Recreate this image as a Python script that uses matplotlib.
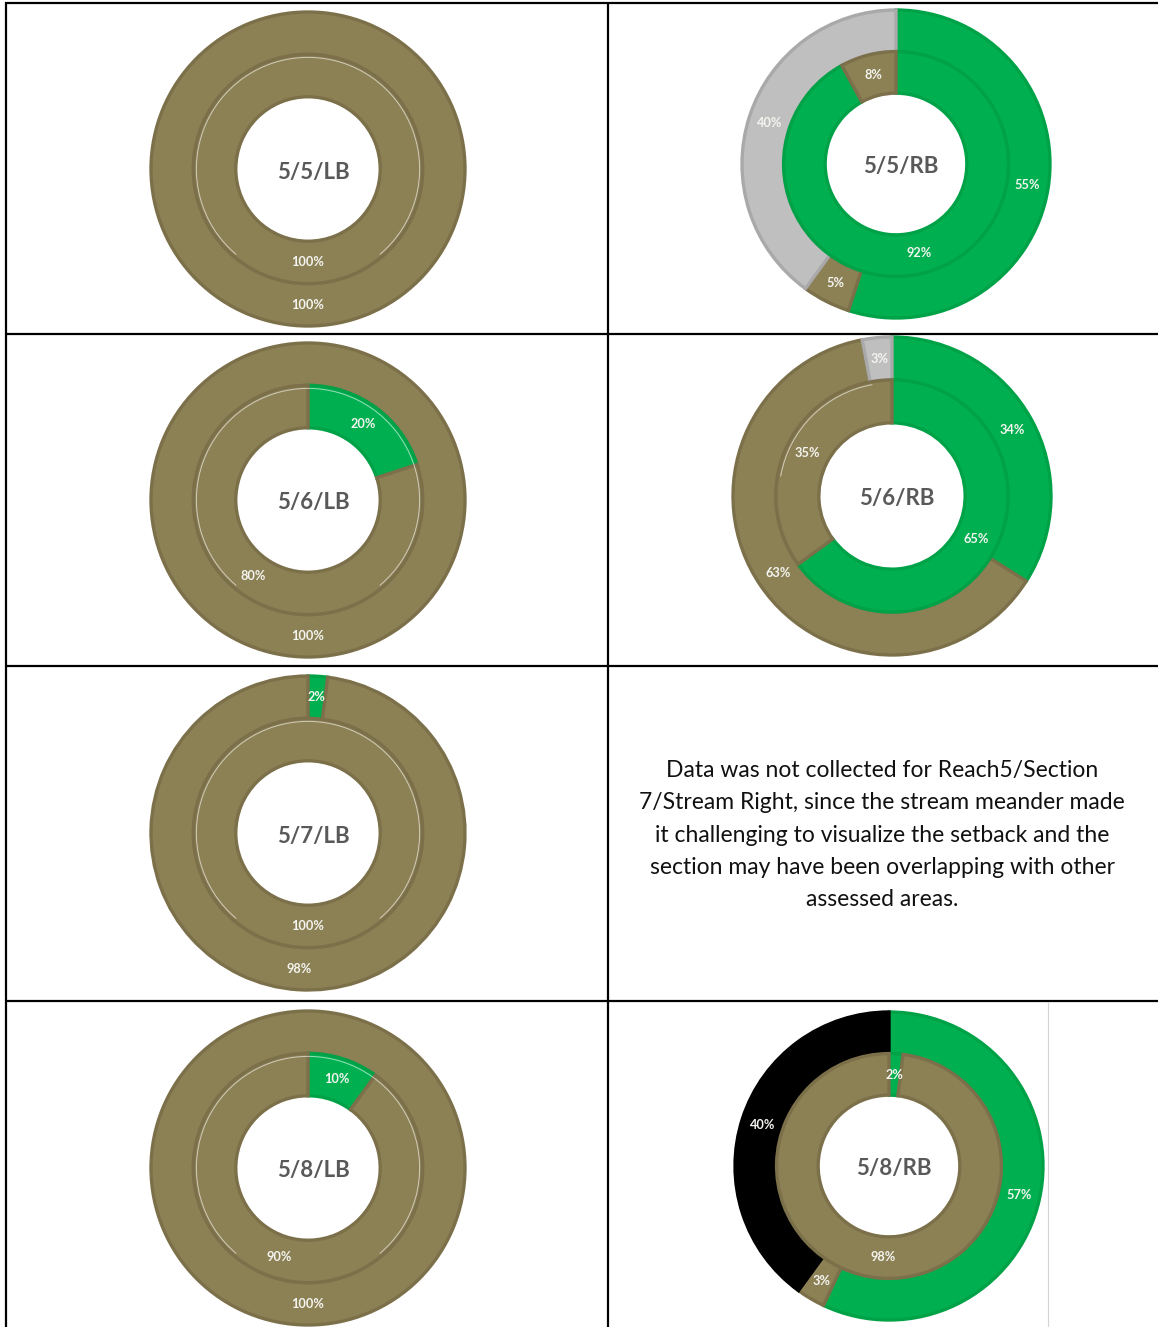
import matplotlib.pyplot as plt
from matplotlib.patches import Arc

plt.rcParams['font.family'] = ['Lato', 'DejaVu Sans']

W, H = 1158, 1327

# one donut pair per table cell: inner ring and outer ring, percent of section
chart_names = ["5/5/LB", "5/5/RB", "5/6/LB", "5/6/RB", "5/7/LB", "5/8/LB", "5/8/RB"]
inner_pct = [[100], [92, 8], [20, 80], [65, 35], [100], [10, 90], [2, 98]]
inner_cats = [["olive"], ["green", "olive"], ["green", "olive"], ["green", "olive"],
              ["olive"], ["green", "olive"], ["green", "olive"]]
outer_pct = [[100], [55, 5, 40], [100], [34, 63, 3], [2, 98], [100], [57, 3, 40]]
outer_cats = [["olive"], ["green", "olive", "gray"], ["olive"], ["green", "olive", "gray"],
              ["green", "olive"], ["olive"], ["green", "olive", "black"]]

missing_note = ("Data was not collected for Reach5/Section\n"
                "7/Stream Right, since the stream meander made\n"
                "it challenging to visualize the setback and the\n"
                "section may have been overlapping with other\n"
                "assessed areas.")

fill = {"olive": "#8c8155", "green": "#00b050", "gray": "#bfbfbf", "black": "#000000"}
edge = {"olive": "#7b7049", "green": "#00a247", "gray": "#a9a9a9", "black": "#000000"}

# pixel layout: centre x, centre y, outer radius
layout = [(308, 169, 157), (896, 164, 154), (308, 500, 157), (892, 496, 159),
          (308, 833, 157), (308, 1168, 157), (889, 1166, 154)]
# where the thin white seam between the rings shows (degrees, ccw from 3 o'clock)
seams = [(-50, 230), None, (-50, 230), (100, 170), (-50, 230), (-50, 230), None]

fig = plt.figure(figsize=(W / 100, H / 100), dpi=100)
ax = fig.add_axes([0, 0, 1, 1])


def ring(vals, cats, cx, cy, radius, width, pctdist):
    wedges, texts = ax.pie(vals, colors=[fill[c] for c in cats], radius=radius,
                           center=(cx, H - cy), startangle=90, counterclock=False,
                           wedgeprops=dict(width=width, linewidth=2.4),
                           autopct=lambda p: f"{p:.0f}%", pctdistance=pctdist,
                           textprops=dict(color="#f4f4f0", fontsize=9.2,
                                          fontweight="bold"))[:2]
    for w, c in zip(wedges, cats):
        w.set_edgecolor(edge[c])
    return wedges


for i, name in enumerate(chart_names):
    cx, cy, r = layout[i]
    hole = r * 0.46
    band = (r - hole) / 2
    ring(outer_pct[i], outer_cats[i], cx, cy, r, band, (r - band / 2) / r)
    ring(inner_pct[i], inner_cats[i], cx, cy, r - band, band,
         (r - band * 1.5) / (r - band))
    if seams[i] is not None:
        t1, t2 = seams[i]
        ax.add_patch(Arc((cx, H - cy), 2 * (r - band) - 6, 2 * (r - band) - 6,
                         theta1=t1, theta2=t2, color="white", lw=0.7, alpha=0.6))
    ax.text(cx + 5, H - cy - 3, name, ha="center", va="center", fontsize=16,
            fontweight="bold", color="#595959")

ax.text(882, H - 835, missing_note, ha="center", va="center", fontsize=16.5,
        linespacing=1.66, color="#111111")

# table grid
lw = 1.6
for x in (5.5, 607.5):
    ax.plot([x, x], [0, H - 2], color="black", lw=lw, solid_capstyle="butt")
for y in (3, 333.5, 665.5, 1001):
    ax.plot([5, W], [H - y, H - y], color="black", lw=lw, solid_capstyle="butt")
ax.plot([1048, 1048], [0, H - 1003], color="#d4d4d4", lw=0.8)

ax.set_xlim(0, W)
ax.set_ylim(0, H)
ax.set_aspect("auto")
ax.axis("off")

fig.savefig("out.png", dpi=100)
